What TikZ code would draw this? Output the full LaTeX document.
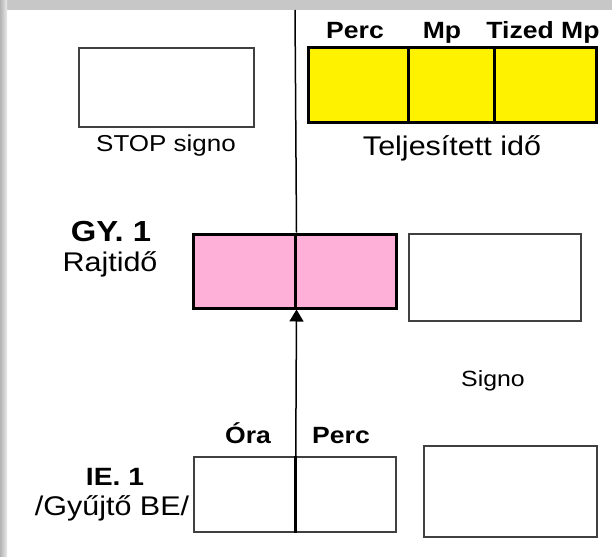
\documentclass[tikz,border=0pt]{standalone}
\usepackage{fontspec}
\setmainfont[FakeStretch=1.13]{Liberation Sans}
\usepackage{tikz}
\usetikzlibrary{positioning, arrows.meta}
\definecolor{rozsa}{HTML}{FFB0D8}

\begin{document}
\begin{tikzpicture}[x=1pt, y=-1pt,
    box/.style={draw=black!75, line width=1.5pt, rectangle, inner sep=0pt, minimum height=75pt},
    cell/.style={draw=black, line width=3pt, rectangle, inner sep=0pt, minimum height=75pt},
    lbl/.style={anchor=base, inner sep=0pt, font=\fontsize{23}{23}\selectfont},
    blbl/.style={anchor=base, inner sep=0pt, font=\fontsize{23.5}{23.5}\selectfont\bfseries}]
        % background and border
        \useasboundingbox (0,0) rectangle (612,556);
        \fill[white] (0,0) rectangle (612,556);
        \fill[black!22] (0,0) rectangle (612,10);
        \shade[left color=black!30, right color=black!8] (0,0) rectangle (7,556);

        \node[box, minimum width=175pt, minimum height=79pt] (stop) at (166.5,87.5) {};
        \node[cell, fill=yellow, minimum width=100pt] (perc) at (358,85.5) {};
        \node[cell, fill=yellow, minimum width=86pt] (mp) at (451,85.5) {};
        \node[cell, fill=yellow, minimum width=102pt] (tized) at (545,85.5) {};

        \node[cell, fill=rozsa, minimum width=102pt, minimum height=74pt] (rajtA) at (244,271) {};
        \node[cell, fill=rozsa, minimum width=101pt, minimum height=74pt] (rajtB) at (345.5,271) {};
        \node[box, minimum width=172pt, minimum height=87pt] (signo) at (495,277.5) {};

        \node[box, minimum width=101pt] (ora) at (244.5,494.5) {};
        \node[box, minimum width=101pt] (gyperc) at (345.5,494.5) {};
        \node[box, minimum width=173pt, minimum height=91pt] (besigno) at (510.5,491.5) {};

        \node[lbl] (stoptext) at (166,151) {STOP signo};
        \node[lbl, font=\fontsize{27}{27}\selectfont] (teljes) at (452,156) {Teljesített idő};
        \node[blbl] (perctext) at (355,39) {Perc};
        \node[blbl] (mptext) at (442,39) {Mp};
        \node[blbl] (tizedtext) at (543,39) {Tized Mp};

        \node[blbl, font=\fontsize{29}{29}\selectfont\bfseries] (gy) at (111,241) {GY. 1};
        \node[lbl, font=\fontsize{27}{27}\selectfont] (rajt) at (110,271) {Rajtidő};
        \node[lbl, font=\fontsize{22}{22}\selectfont] (signotext) at (493,386) {Signo};

        \node[blbl] (oratext) at (248,443) {Óra};
        \node[blbl] (perctext2) at (341,443) {Perc};
        \node[blbl, font=\fontsize{25}{25}\selectfont\bfseries] (ie) at (115,485) {IE. 1};
        \node[lbl, font=\fontsize{27}{27}\selectfont] (gyujto) at (112,515) {/Gyűjtő BE/};

        \coordinate (top) at (295,10);
        \draw[line width=1.5pt] (top) -- (rajtA.north east);
        \draw[line width=1.5pt, -{Triangle[length=12pt, width=14pt]}] (ora.north east) -- (rajtA.south east);
        \draw[line width=3pt] (ora.north east) -- (ora.south east);
    \end{tikzpicture}
\end{document}
